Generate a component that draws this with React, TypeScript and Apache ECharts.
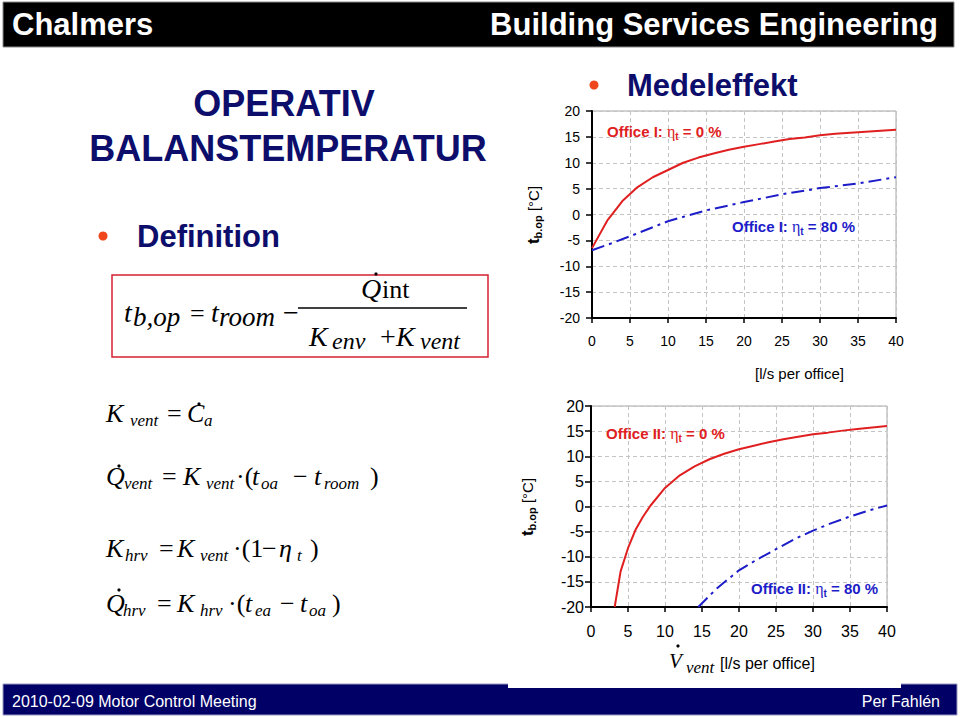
import React, { useEffect, useRef } from 'react';
import * as echarts from 'echarts';

// ---- data ----
const xMin = 0, xMax = 40, xStep = 5;
const yMin = -20, yMax = 20, yStep = 5;

const office1Eta0Flow = [0, 2, 4, 6, 8, 10, 12, 14, 16, 18, 20, 22, 24, 26, 28, 30, 32, 34, 36, 38, 40];
const office1Eta0 = [-6.5, -1.2, 2.6, 5.3, 7.2, 8.6, 10.0, 11.0, 11.8, 12.5, 13.1, 13.6, 14.1, 14.6, 14.9, 15.3, 15.6, 15.8, 16.0, 16.2, 16.4];
const office1Eta80Flow = [0, 2.5, 5, 10, 15, 20, 25, 30, 35, 40];
const office1Eta80 = [-6.9, -5.6, -4.2, -1.3, 0.8, 2.4, 3.9, 5.1, 6.0, 7.2];

const office2Eta0Flow = [3.2, 4, 5, 6, 7, 8, 10, 12, 14, 16, 18, 20, 22, 24, 26, 28, 30, 32, 34, 36, 38, 40];
const office2Eta0 = [-20, -12.9, -8.3, -4.7, -2.1, 0.1, 3.7, 6.2, 8.0, 9.4, 10.5, 11.4, 12.1, 12.8, 13.4, 13.9, 14.4, 14.7, 15.1, 15.4, 15.7, 16.0];
const office2Eta80Flow = [14.5, 17, 20, 22.5, 25, 27.5, 30, 32.5, 35, 37.5, 40];
const office2Eta80 = [-20, -16.3, -12.7, -10.5, -8.5, -6.5, -4.8, -3.3, -2.0, -0.8, 0.2];

const pairs = (xs: number[], ys: number[]) => xs.map((x, i) => [x, ys[i]]);

// ---- styles ----
const SERIF = "'Liberation Serif','Times New Roman',serif";
const SANS = "'Liberation Sans',Arial,Helvetica,sans-serif";
const NAVY = '#0d0d6b';
const RED = '#e02020';
const BLUE = '#1c1cc8';

function F(text: string, x: number, base: number, size: number, italic = true): any {
  return {
    type: 'text', x, y: base - 0.34 * size, silent: true, z: 10,
    style: {
      text, fontSize: size, fontFamily: SERIF, fontStyle: italic ? 'italic' : 'normal',
      fill: '#000', align: 'left', verticalAlign: 'middle', textAlign: 'left', textVerticalAlign: 'middle',
    },
  };
}
function dot(x: number, y: number): any {
  return { type: 'circle', shape: { cx: x, cy: y, r: 1.6 }, style: { fill: '#000' }, silent: true, z: 10 };
}
function sansText(text: string, x: number, cy: number, size: number, color: string, weight = 'normal', align = 'left'): any {
  return {
    type: 'text', x, y: cy, silent: true, z: 10,
    style: {
      text, fontSize: size, fontFamily: SANS, fontWeight: weight, fill: color,
      align, verticalAlign: 'middle', textAlign: align, textVerticalAlign: 'middle',
    },
  };
}
function officeLabel(name: string, pct: string, x: number, cy: number, color: string): any {
  return {
    type: 'text', x, y: cy, silent: true, z: 10,
    style: {
      text: `{b|${name}: }{e|η}{s|t}{b| = ${pct} %}`,
      lineHeight: 20, align: 'left', verticalAlign: 'middle', textAlign: 'left', textVerticalAlign: 'middle',
      rich: {
        b: { fontSize: 15, fontWeight: 'bold', fontFamily: SANS, fill: color, lineHeight: 20 },
        e: { fontSize: 16, fontFamily: SERIF, fill: color, lineHeight: 20 },
        s: { fontSize: 10, fontWeight: 'bold', fontFamily: SANS, fill: color, verticalAlign: 'bottom', lineHeight: 20 },
      },
    },
  };
}
function yName(x: number, cy: number): any {
  return {
    type: 'text', x, y: cy, rotation: Math.PI / 2, silent: true, z: 10,
    style: {
      text: '{t|t}{s|b.op}{n| [°C]}',
      lineHeight: 20, align: 'center', verticalAlign: 'middle', textAlign: 'center', textVerticalAlign: 'middle',
      rich: {
        t: { fontSize: 17, fontWeight: 'bold', fontFamily: SANS, fill: '#000', lineHeight: 20 },
        s: { fontSize: 11, fontWeight: 'bold', fontFamily: SANS, fill: '#000', verticalAlign: 'bottom', lineHeight: 20 },
        n: { fontSize: 15, fontFamily: SANS, fill: '#000', lineHeight: 20 },
      },
    },
  };
}

function mkX(gridIndex: number, fontSize: number): any {
  return {
    type: 'value', gridIndex, min: xMin, max: xMax, interval: xStep,
    axisLine: { show: true, onZero: false, lineStyle: { color: '#000', width: 2 } },
    axisTick: { show: true, inside: false, length: 5, lineStyle: { color: '#000', width: 1.5 } },
    axisLabel: { color: '#000', fontSize, fontFamily: SANS, margin: 16 },
    splitLine: { show: true, lineStyle: { color: '#c4c4c4', type: [4, 3], width: 1 } },
  };
}
function mkY(gridIndex: number, fontSize: number, margin: number): any {
  return {
    type: 'value', gridIndex, min: yMin, max: yMax, interval: yStep,
    axisLine: { show: true, onZero: false, lineStyle: { color: '#000', width: 2 } },
    axisTick: { show: true, inside: false, length: 6, lineStyle: { color: '#000', width: 1.5 } },
    axisLabel: { color: '#000', fontSize, fontFamily: SANS, margin },
    splitLine: { show: true, lineStyle: { color: '#c4c4c4', type: [4, 3], width: 1 } },
  };
}
function line(xi: number, data: number[][], color: string, dashed: boolean): any {
  return {
    type: 'line', xAxisIndex: xi, yAxisIndex: xi, data, showSymbol: false, symbol: 'none',
    clip: true, z: 3, silent: true,
    lineStyle: { color, width: 2, type: dashed ? [13, 5, 3, 5] : 'solid' },
  };
}

export default function App() {
  const ref = useRef<HTMLDivElement>(null);
  useEffect(() => {
    if (!ref.current) return;
    const chart = echarts.init(ref.current, undefined, { renderer: 'svg' });
    const it = true, up = false;
    const M = 26, S = 17;
    const elements: any[] = [
      // header
      { type: 'rect', shape: { x: 3, y: 2, width: 951, height: 45 }, style: { fill: '#000', stroke: '#8a8a8a', lineWidth: 1 }, silent: true, z: 1 },
      sansText('Chalmers', 12, 24, 31, '#fff', 'bold'),
      sansText('Building Services Engineering', 938, 24, 31, '#fff', 'bold', 'right'),
      // footer
      { type: 'rect', shape: { x: 3, y: 684, width: 954, height: 31 }, style: { fill: '#000066', stroke: '#9a9ac0', lineWidth: 1 }, silent: true, z: 1 },
      { type: 'rect', shape: { x: 508, y: 680, width: 393, height: 8 }, style: { fill: '#fff' }, silent: true, z: 2 },
      sansText('2010-02-09 Motor Control Meeting', 12, 701, 16, '#fff'),
      sansText('Per Fahlén', 940, 701, 16, '#fff', 'normal', 'right'),
      // title
      sansText('OPERATIV', 284, 103, 36, NAVY, 'bold', 'center'),
      sansText('BALANSTEMPERATUR', 288, 148, 36, NAVY, 'bold', 'center'),
      // Definition
      { type: 'circle', shape: { cx: 103, cy: 236, r: 4.5 }, style: { fill: '#f0461c' }, silent: true, z: 10 },
      sansText('Definition', 137, 236, 31, NAVY, 'bold'),
      // Medeleffekt
      { type: 'circle', shape: { cx: 594, cy: 85, r: 4.5 }, style: { fill: '#f0461c' }, silent: true, z: 10 },
      sansText('Medeleffekt', 627, 85, 31, NAVY, 'bold'),
      // formula box
      { type: 'rect', shape: { x: 112, y: 275, width: 376, height: 82 }, style: { fill: 'none', stroke: '#d42030', lineWidth: 1.5 }, silent: true, z: 5 },
      F('t', 124, 322, 28, it), F('b,op', 133, 326, 27, it), F('=', 190, 322, 26, up),
      F('t', 211, 322, 28, it), F('room', 219, 326, 27, it), F('−', 283, 322, 28, up),
      { type: 'line', shape: { x1: 298, y1: 308, x2: 467, y2: 308 }, style: { stroke: '#000', lineWidth: 1.3 }, silent: true, z: 10 },
      F('Q', 361, 298, 28, it), F('int', 382, 298, 26, up), dot(376, 274),
      F('K', 309, 346, 28, it), F('env', 332, 349, 24, it), F('+', 380, 346, 28, up),
      F('K', 396, 346, 28, it), F('vent', 420, 349, 24, it),
      // lower formulas
      F('K', 106, 422, M, it), F('vent', 130, 426, S, it), F('=', 167, 422, M, up),
      F('C', 187, 422, M, it), dot(199, 404), F('a', 204, 426, S, it),

      F('Q', 106, 485, M, it), dot(119, 466), F('vent', 124, 489, S, it), F('=', 162, 485, M, up),
      F('K', 183, 485, M, it), F('vent', 206, 489, S, it), F('·(', 236, 485, M, up),
      F('t', 252, 485, M, it), F('oa', 261, 489, S, it), F('−', 293, 485, M, up),
      F('t', 314, 485, M, it), F('room', 324, 489, S, it), F(')', 370, 485, M, up),

      F('K', 106, 557, M, it), F('hrv', 125, 561, S, it), F('=', 159, 557, M, up),
      F('K', 177, 557, M, it), F('vent', 200, 561, S, it), F('·(1', 233, 557, M, up),
      F('−', 262, 557, M, up), F('η', 279, 557, M, it), F('t', 297, 561, S, it), F(')', 310, 557, M, up),

      F('Q', 106, 612, M, it), dot(119, 590), F('hrv', 123, 616, S, it), F('=', 157, 612, M, up),
      F('K', 177, 612, M, it), F('hrv', 200, 616, S, it), F('·(', 228, 612, M, up),
      F('t', 245, 612, M, it), F('ea', 255, 616, S, it), F('−', 280, 612, M, up),
      F('t', 300, 612, M, it), F('oa', 309, 616, S, it), F(')', 332, 612, M, up),

      // chart annotations
      yName(533, 215),
      yName(527, 507),
      officeLabel('Office I', '0', 607, 131, RED),
      officeLabel('Office I', '80', 732, 226, BLUE),
      officeLabel('Office II', '0', 606, 433, RED),
      officeLabel('Office II', '80', 751, 588, BLUE),
      sansText('[l/s per office]', 755, 373, 15, '#000'),
      F('V', 669, 668, 21, it), dot(678, 646), F('vent', 686, 673, 17, it),
      sansText('[l/s per office]', 720, 663, 16, '#000'),
    ];

    chart.setOption({
      animation: false,
      backgroundColor: '#fff',
      grid: [
        { left: 592, top: 111, width: 304, height: 207, show: true, borderColor: '#a6a6a6', borderWidth: 1, backgroundColor: 'transparent' },
        { left: 591, top: 406, width: 296, height: 201, show: true, borderColor: '#a6a6a6', borderWidth: 1, backgroundColor: 'transparent' },
      ],
      xAxis: [mkX(0, 14), mkX(1, 16)],
      yAxis: [mkY(0, 14, 12), mkY(1, 16, 7)],
      series: [
        line(0, pairs(office1Eta0Flow, office1Eta0), RED, false),
        line(0, pairs(office1Eta80Flow, office1Eta80), BLUE, true),
        line(1, pairs(office2Eta0Flow, office2Eta0), RED, false),
        line(1, pairs(office2Eta80Flow, office2Eta80), BLUE, true),
      ],
      graphic: { elements },
    });
    return () => chart.dispose();
  }, []);
  return <div ref={ref} style={{ position: 'fixed', left: 0, top: 0, width: 960, height: 717 }} />;
}
